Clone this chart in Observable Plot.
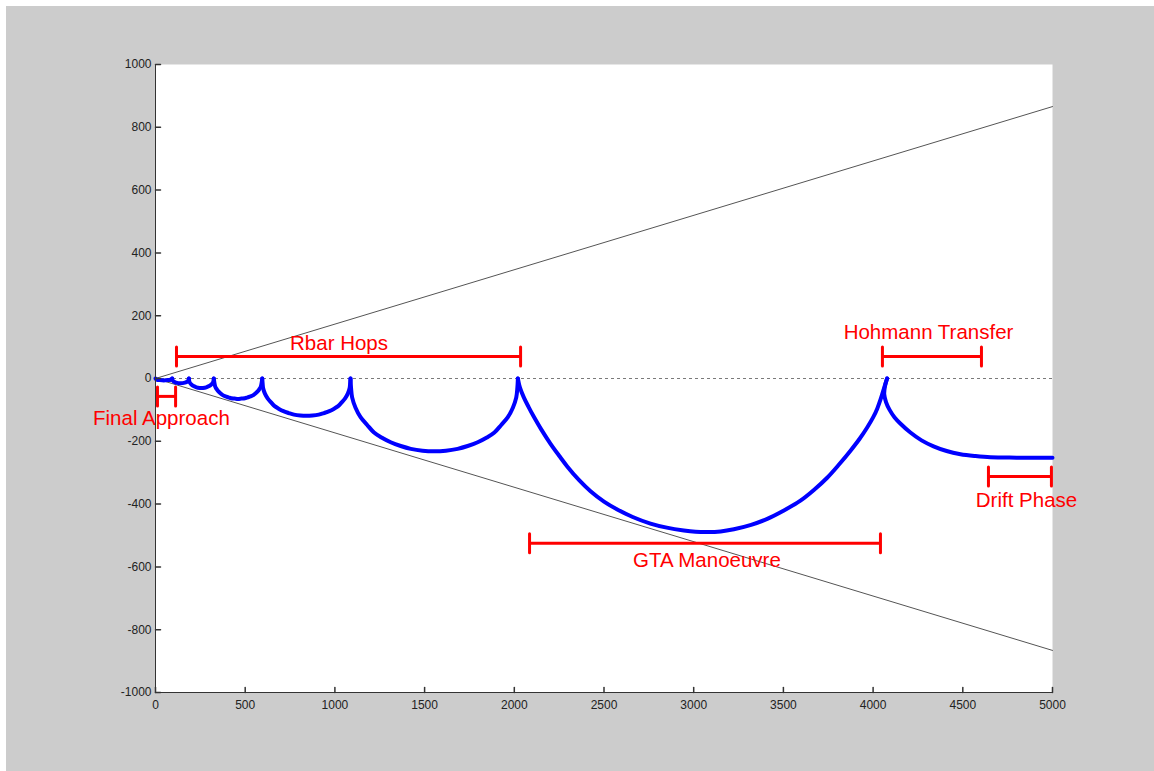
<!DOCTYPE html>
<html>
<head>
<meta charset="utf-8">
<script src="https://cdn.jsdelivr.net/npm/d3@7"></script>
<script src="https://cdn.jsdelivr.net/npm/@observablehq/plot@0.6"></script>
<style>
  html, body { margin: 0; padding: 0; background: #ffffff; }
  #bg { position: absolute; left: 6px; top: 6px; width: 1148px; height: 765px; background: #cccccc; }
  #chart { position: absolute; left: 0; top: 0; }
  svg { font-family: "Liberation Sans", Arial, sans-serif; }
</style>
</head>
<body>
<div id="bg"></div>
<div id="chart"></div>
<script>
// ---- data ----
const xTicks = [0, 500, 1000, 1500, 2000, 2500, 3000, 3500, 4000, 4500, 5000];
const yTicks = [-1000, -800, -600, -400, -200, 0, 200, 400, 600, 800, 1000];

// approach cone (x, upper y, lower y)
const coneX = [0, 5000];
const coneUpper = [0, 866];
const coneLower = [0, -866];

// trajectory, one segment per manoeuvre arc
const arc1X = [0, 3, 9, 22, 46, 71, 84, 90, 93];
const arc1Y = [0, -2, -4, -5, -6, -5, -4, -2, 0];
const arc2X = [93, 96, 102, 115, 139, 164, 177, 183, 186];
const arc2Y = [0, -6, -10, -13, -15, -13, -10, -6, 0];
const arc3X = [186, 190, 200, 212, 228, 246, 255, 265, 283, 299, 311, 321, 325];
const arc3Y = [0, -12, -19, -24, -28, -30, -30, -30, -28, -24, -19, -12, 0];
const arc4X = [325, 333, 341, 352, 363, 375, 390, 406, 422, 441, 460, 479, 498, 514, 530, 545, 557, 568, 579, 587, 595];
const arc4Y = [0, -26, -34, -42, -48, -53, -57, -60, -63, -64, -65, -64, -63, -60, -57, -53, -48, -42, -34, -26, 0];
const arc5X = [595, 597, 600, 610, 625, 644, 664, 686, 713, 743, 772, 807, 841, 875, 910, 939, 969, 996, 1018, 1038, 1057, 1072, 1082, 1085, 1087];
const arc5Y = [0, -15, -31, -48, -63, -76, -88, -96, -104, -110, -115, -118, -119, -118, -115, -110, -104, -96, -88, -76, -63, -48, -31, -15, 0];
const arc6X = [1087, 1090, 1096, 1115, 1143, 1180, 1218, 1260, 1311, 1367, 1423, 1488, 1553, 1619, 1684, 1740, 1796, 1847, 1889, 1927, 1964, 1992, 2011, 2017, 2020];
const arc6Y = [0, -30, -60, -93, -123, -148, -172, -188, -203, -215, -224, -230, -232, -230, -224, -215, -203, -188, -172, -148, -123, -93, -60, -30, 0];
const arc7X = [2020, 2032, 2053, 2080, 2109, 2150, 2202, 2250, 2295, 2360, 2425, 2500, 2574, 2660, 2759, 2850, 2945, 3010, 3075, 3150, 3224, 3320, 3410, 3500, 3595, 3670, 3744, 3810, 3874, 3925, 3967, 4000, 4023, 4042, 4056, 4068, 4078];
const arc7Y = [0, -30, -60, -91, -122, -162, -208, -246, -280, -323, -359, -392, -417, -441, -462, -475, -484, -488, -489, -487, -480, -466, -447, -421, -389, -355, -316, -274, -230, -192, -156, -124, -96, -66, -40, -18, 0];
const arc8X = [4078, 4066, 4062, 4072, 4092, 4120, 4153, 4208, 4270, 4337, 4410, 4487, 4570, 4654, 4800, 5000];
const arc8Y = [0, -25, -50, -75, -100, -124, -144, -172, -197, -216, -231, -241, -247, -251, -252, -252];

// phase annotations
const phaseLabels = ["Final Approach", "Rbar Hops", "GTA Manoeuvre", "Hohmann Transfer", "Drift Phase"];
const phaseStart = [11, 117, 2085, 4052, 4643];
const phaseEnd = [112, 2035, 4041, 4604, 4994];
const phaseBarY = [-57, 70, -525, 70, -312];
const phaseLabelX = [33, 1023, 3074, 4309, 4855];
const phaseLabelY = [-127, 111, -580, 146, -389];

// ---- tables built from the arrays ----
const arcs = [[arc1X, arc1Y], [arc2X, arc2Y], [arc3X, arc3Y], [arc4X, arc4Y],
              [arc5X, arc5Y], [arc6X, arc6Y], [arc7X, arc7Y], [arc8X, arc8Y]];
const traj = arcs.flatMap(([xs, ys], k) => xs.map((x, i) => ({x, y: ys[i], seg: k})));
const cone = [
  ...coneX.map((x, i) => ({x, y: coneUpper[i], side: "upper"})),
  ...coneX.map((x, i) => ({x, y: coneLower[i], side: "lower"}))
];
const phases = phaseLabels.map((label, i) => ({
  label, x1: phaseStart[i], x2: phaseEnd[i], y: phaseBarY[i], lx: phaseLabelX[i], ly: phaseLabelY[i]
}));
const caps = phases.flatMap(p => [{x: p.x1, y: p.y}, {x: p.x2, y: p.y}]);

const lineShape = {draw(context, l) { context.moveTo(0, 0); context.lineTo(0, -l); }};
const axisColor = "#333333";
const red = "#ff0000";
const fmt = d => String(d);

const chart = Plot.plot({
  width: 1154,
  height: 771,
  marginLeft: 155,
  marginRight: 102,
  marginTop: 64,
  marginBottom: 79,
  style: {background: "transparent", overflow: "visible", fontFamily: "'Liberation Sans', Arial, sans-serif"},
  x: {domain: [0, 5000]},
  y: {domain: [-1000, 1000]},
  marks: [
    Plot.frame({fill: "white", stroke: "none"}),
    Plot.ruleY([0], {stroke: "#7a7a7a", strokeDasharray: "3,3", strokeWidth: 1}),
    Plot.line(cone, {x: "x", y: "y", z: "side", stroke: "#555555", strokeWidth: 1}),
    Plot.line(traj, {x: "x", y: "y", z: "seg", stroke: "#0000ff", strokeWidth: 4, curve: "catmull-rom", strokeLinejoin: "round", strokeLinecap: "round"}),
    Plot.ruleY(phases, {y: "y", x1: "x1", x2: "x2", stroke: red, strokeWidth: 3}),
    Plot.vector(caps, {x: "x", y: "y", length: 19, rotate: 0, anchor: "middle", shape: lineShape, stroke: red, strokeWidth: 3}),
    Plot.text(phases, {x: "lx", y: "ly", text: "label", fill: red, fontSize: 20.5, fontFamily: "'Liberation Sans', Arial, sans-serif"}),
    Plot.ruleX([0], {stroke: axisColor}),
    Plot.ruleY([-1000], {stroke: axisColor}),
    Plot.vector(xTicks, {x: d => d, y: -1000, length: 5, rotate: 0, anchor: "start", shape: lineShape, stroke: axisColor}),
    Plot.vector(yTicks, {x: 0, y: d => d, length: 5, rotate: 90, anchor: "start", shape: lineShape, stroke: axisColor}),
    Plot.axisX(xTicks, {tickSize: 0, tickPadding: 8, fontSize: 12, fill: "#222", label: null, tickFormat: fmt}),
    Plot.axisY(yTicks, {tickSize: 0, tickPadding: 4, fontSize: 12, fill: "#222", label: null, tickFormat: fmt})
  ]
});
document.getElementById("chart").appendChild(chart);
</script>
</body>
</html>
